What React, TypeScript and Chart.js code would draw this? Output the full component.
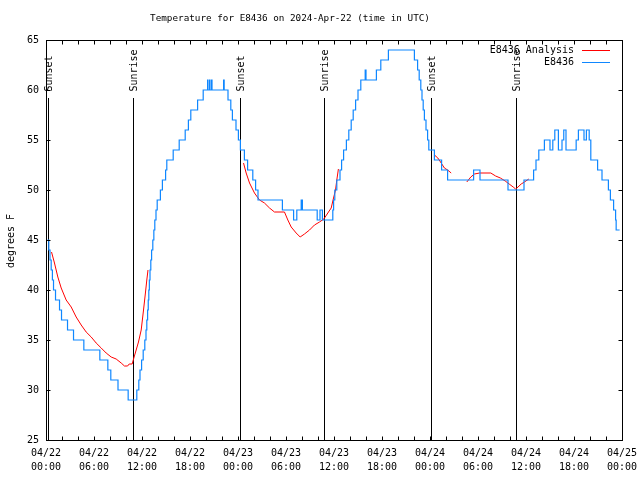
import React, { useEffect, useRef } from 'react';
import { Chart, registerables } from 'chart.js';

Chart.register(...registerables);

const FONT = '"DejaVu Sans Mono", monospace';

const TITLE = 'Temperature for E8436 on 2024-Apr-22 (time in UTC)';
const Y_TITLE = 'degrees F';

const xTickLabels = [
  ['04/22', '00:00'], ['04/22', '06:00'], ['04/22', '12:00'], ['04/22', '18:00'],
  ['04/23', '00:00'], ['04/23', '06:00'], ['04/23', '12:00'], ['04/23', '18:00'],
  ['04/24', '00:00'], ['04/24', '06:00'], ['04/24', '12:00'], ['04/24', '18:00'],
  ['04/25', '00:00'],
];

// hours since 04/22 00:00 UTC
const sunEventHours = [0.2, 10.85, 24.2, 34.7, 48.15, 58.8];
const sunEventLabels = ['Sunset', 'Sunrise', 'Sunset', 'Sunrise', 'Sunset', 'Sunrise'];
const SUN_LINE_TOP = 59.2;

// E8436 Analysis (null = gap)
const analysisHours = [
  0.69, 1.06, 1.48, 1.9, 2.52, 3.15, 3.77, 4.4, 5.02, 5.65, 6.27, 6.9, 7.52, 8.15, 8.77, 9.4, 9.81, 10.2, 10.4, 10.77,
  10.98, 11.27, 11.56, 11.9, 12.19, 12.44, 12.6, 12.75,
  18,
  24.69, 25.02, 25.44, 26.06, 26.69, 27.31, 27.94, 28.56, 29.81, 30.23, 30.65, 31.27, 31.77, 32.31, 32.94, 33.56,
  34.19, 34.73, 35.23, 35.65, 35.94, 36.19, 36.35, 36.55,
  42,
  48.56, 48.98, 49.4, 49.8, 50.2, 50.65,
  51.5,
  52.6, 53.1, 53.56, 54.19, 55.6, 56.2, 56.8, 57.4, 57.9, 58.4, 58.7, 59.0, 59.4, 59.8, 60.35,
];
const analysisTemps = [
  43.8, 42.7, 41.3, 40.2, 39.0, 38.3, 37.3, 36.5, 35.8, 35.3, 34.7, 34.2, 33.7, 33.3, 33.1, 32.7, 32.4, 32.4, 32.6, 32.6,
  33.2, 34.0, 34.8, 36.0, 38.0, 39.8, 41.0, 42.0,
  null,
  52.7, 51.7, 50.7, 49.7, 49.0, 48.7, 48.2, 47.8, 47.8, 47.0, 46.3, 45.7, 45.3, 45.6, 46.0, 46.5,
  46.8, 47.1, 47.7, 48.2, 49.2, 50.0, 51.0, 52.1,
  null,
  53.5, 53.2, 52.7, 52.2, 52.0, 51.7,
  null,
  50.8, 51.3, 51.6, 51.7, 51.7, 51.4, 51.2, 50.9, 50.6, 50.3, 50.1, 50.3, 50.6, 50.8, 51.1,
];

// E8436 observations (value changes at each hour listed)
const stationHours = [
  0.2, 0.35, 0.5, 0.65, 0.8, 0.94, 1.19, 1.69, 1.94, 2.69, 3.44, 4.73, 6.73, 7.73, 8.1, 9.0, 10.27,
  11.35, 11.6, 11.75, 11.95, 12.15, 12.35, 12.5, 12.6, 12.7, 12.78, 12.85, 12.92, 13.0, 13.1, 13.2, 13.35,
  13.48, 13.6, 13.75, 13.9, 14.3, 14.55, 14.95, 15.1, 15.9, 16.65, 17.4, 17.8, 18.1, 18.95, 19.65,
  20.2, 20.25, 20.45, 20.5, 20.7, 20.75, 22.2, 22.27, 22.75, 23.1, 23.3, 23.75, 24.05, 24.3, 24.8, 25.2,
  25.85, 26.2, 26.5, 29.55, 30.95, 31.35, 31.9, 32.05, 33.9, 34.25, 34.55, 35.85, 35.95, 36.1, 36.35,
  36.75, 36.95, 37.2, 37.55, 37.85, 38.15, 38.4, 38.7, 39.0, 39.35, 39.9, 40.0, 41.3, 41.85, 42.8,
  46.05, 46.45, 46.65, 46.85, 47.0, 47.15, 47.3, 47.5, 47.7, 47.85, 48.55, 49.45, 50.2, 53.45, 54.25,
  57.75, 59.75, 60.95, 61.25, 61.6, 62.3, 63.0, 63.35, 63.6, 64.05, 64.5, 64.72, 65.0, 66.27, 66.55,
  67.25, 67.55, 67.9, 68.1, 68.95, 69.5, 70.3, 70.55, 70.95, 71.2, 71.27, 71.7,
];
const stationTemps = [
  45, 44, 43, 42, 41, 40, 39, 38, 37, 36, 35, 34, 33, 32, 31, 30, 29,
  30, 31, 32, 33, 34, 35, 36, 37, 38, 39, 40, 41, 42, 43, 44, 45,
  46, 47, 48, 49, 50, 51, 52, 53, 54, 55, 56, 57, 58, 59, 60,
  61, 60, 61, 60, 61, 60, 61, 60, 59, 58, 57, 56, 55, 54, 53, 52,
  51, 50, 49, 48, 47, 48, 49, 48, 47, 48, 47, 48, 49, 50, 51,
  52, 53, 54, 55, 56, 57, 58, 59, 60, 61, 62, 61, 62, 63, 64,
  63, 62, 61, 60, 59, 58, 57, 56, 55, 54, 53, 52, 51, 52, 51,
  50, 51, 52, 53, 54, 55, 54, 55, 56, 54, 55, 56, 54, 55, 56,
  55, 56, 55, 53, 52, 51, 50, 49, 48, 47, 46, 46,
];

const ANALYSIS_COLOR = '#ff0000';
const STATION_COLOR = '#0f87ff';

const overlay = {
  id: 'overlay',
  beforeDatasetsDraw(chart: any) {
    const { ctx, chartArea: a, scales } = chart;
    const x = scales.x;
    const y = scales.y;
    ctx.save();
    ctx.strokeStyle = '#000';
    ctx.lineWidth = 1;
    ctx.fillStyle = '#000';
    ctx.font = `10px ${FONT}`;
    const top = y.getPixelForValue(SUN_LINE_TOP);
    sunEventHours.forEach((h, i) => {
      const px = Math.round(x.getPixelForValue(h)) + 0.5;
      ctx.beginPath();
      ctx.moveTo(px, top);
      ctx.lineTo(px, a.bottom);
      ctx.stroke();
      ctx.save();
      ctx.translate(px + 1, top - 6.5);
      ctx.rotate(-Math.PI / 2);
      ctx.textAlign = 'left';
      ctx.textBaseline = 'middle';
      ctx.fillText(sunEventLabels[i], 0, 0);
      ctx.restore();
    });
    ctx.restore();
  },
  afterDraw(chart: any) {
    const { ctx, chartArea: a, scales } = chart;
    const x = scales.x;
    const y = scales.y;
    ctx.save();
    ctx.strokeStyle = '#000';
    ctx.lineWidth = 1;
    const L = Math.round(a.left) + 0.5;
    const R = Math.round(a.right) + 0.5;
    const T = Math.round(a.top) + 0.5;
    const B = Math.round(a.bottom) + 0.5;
    ctx.strokeRect(L, T, R - L, B - T);
    ctx.beginPath();
    for (let h = x.min; h <= x.max; h += 2) {
      const px = Math.round(x.getPixelForValue(h)) + 0.5;
      ctx.moveTo(px, B); ctx.lineTo(px, B - 4);
      ctx.moveTo(px, T); ctx.lineTo(px, T + 4);
    }
    for (let v = y.min; v <= y.max; v += 5) {
      const py = Math.round(y.getPixelForValue(v)) + 0.5;
      ctx.moveTo(L, py); ctx.lineTo(L + 4, py);
      ctx.moveTo(R, py); ctx.lineTo(R - 4, py);
    }
    ctx.stroke();

    // title
    ctx.fillStyle = '#000';
    ctx.font = `9.3px ${FONT}`;
    ctx.textAlign = 'center';
    ctx.textBaseline = 'middle';
    ctx.fillText(TITLE, 290, 19);

    // y title
    ctx.font = `10px ${FONT}`;
    ctx.save();
    ctx.translate(11, 241);
    ctx.rotate(-Math.PI / 2);
    ctx.fillText(Y_TITLE, 0, 0);
    ctx.restore();

    // legend
    const ds = chart.data.datasets;
    ctx.textAlign = 'right';
    ds.forEach((d: any, i: number) => {
      const ly = 50 + i * 12;
      ctx.fillStyle = '#000';
      ctx.fillText(d.label, 574, ly);
      ctx.strokeStyle = d.borderColor;
      ctx.beginPath();
      ctx.moveTo(582, Math.round(ly) + 0.5);
      ctx.lineTo(610, Math.round(ly) + 0.5);
      ctx.stroke();
    });
    ctx.restore();
  },
};

export default function App() {
  const ref = useRef<HTMLCanvasElement>(null);
  useEffect(() => {
    const chart = new Chart(ref.current as HTMLCanvasElement, {
      type: 'line',
      data: {
        datasets: [
          {
            label: 'E8436 Analysis',
            data: analysisHours.map((h, i) => ({ x: h, y: analysisTemps[i] })) as any,
            borderColor: ANALYSIS_COLOR,
            borderWidth: 1,
            pointRadius: 0,
            spanGaps: false,
            tension: 0,
            order: 2,
          },
          {
            label: 'E8436',
            data: stationHours.map((h, i) => ({ x: h, y: stationTemps[i] })) as any,
            borderColor: STATION_COLOR,
            borderWidth: 1.2,
            pointRadius: 0,
            stepped: 'before',
            order: 1,
          },
        ],
      },
      options: {
        responsive: false,
        animation: false,
        events: [],
        layout: { padding: { top: 40, right: 18, left: 0, bottom: 0 } },
        plugins: {
          legend: { display: false },
          title: { display: false },
          tooltip: { enabled: false },
        },
        scales: {
          x: {
            type: 'linear',
            min: 0,
            max: 72,
            afterFit: (s: any) => { s.height = 40; s.paddingLeft = 0; s.paddingRight = 0; },
            grid: { display: false, drawTicks: false },
            border: { display: false },
            ticks: {
              stepSize: 6,
              autoSkip: false,
              maxRotation: 0,
              padding: 6,
              color: '#000',
              font: { family: FONT, size: 10, lineHeight: 1.4 },
              callback: (v: any) => xTickLabels[Math.round(Number(v) / 6)],
            },
          },
          y: {
            min: 25,
            max: 65,
            afterFit: (s: any) => { s.width = 46; s.paddingTop = 0; s.paddingBottom = 0; },
            grid: { display: false, drawTicks: false },
            border: { display: false },
            ticks: {
              stepSize: 5,
              padding: 7,
              color: '#000',
              font: { family: FONT, size: 10 },
            },
          },
        },
      },
      plugins: [overlay],
    });
    return () => chart.destroy();
  }, []);
  return (
    <div style={{ position: 'absolute', left: 0, top: 0, width: 640, height: 480, background: '#fff' }}>
      <canvas ref={ref} width={640} height={480} />
    </div>
  );
}
